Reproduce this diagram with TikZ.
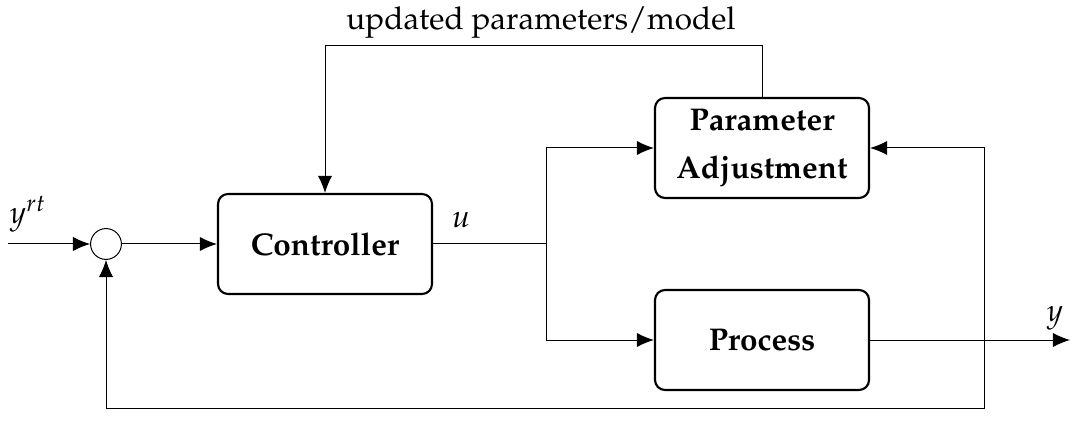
\documentclass[tikz,border=0pt]{standalone}
\usepackage[T1]{fontenc}
\usepackage{mathpazo}
\usepackage{tikz}
\usetikzlibrary{arrows.meta,positioning}

\begin{document}
\begin{tikzpicture}[x=0.35pt,y=-0.35pt,line width=0.35pt,
  font=\fontsize{11}{13.5}\selectfont,
  block/.style={draw,line width=0.75pt,rounded corners=3.5pt,minimum width=74.9pt,
    minimum height=35pt,align=center,font=\fontsize{11}{13.5}\selectfont\bfseries},
  sumnode/.style={circle,draw,minimum size=10.8pt,inner sep=0pt},
  >={Latex[length=6pt,width=5pt]}]

\useasboundingbox (0,0) rectangle (1072,436);

\node[sumnode] (sum) at (106,244) {};
\node[block] (ctrl) at (325,244) {Controller};
\node[block] (adj) at (762,148) {Parameter\\[3.5pt]Adjustment};
\node[block] (proc) at (762,340) {Process};

\coordinate (in) at (8,244);
\coordinate (split) at (546,244);
\coordinate (out) at (1070,340);
\coordinate (tap) at (984,340);
\coordinate (bot) at (984,408);
\coordinate (fb) at (762,46);

\draw[->] (in) -- (sum);
\draw[->] (sum) -- (ctrl);
\draw (ctrl) -- (split);
\draw[->] (split) |- (adj);
\draw[->] (split) |- (proc);
\draw[->] (proc) -- (out);
\draw[->] (tap) |- (adj);
\draw[->] (tap) -- (bot) -| (sum);
\draw[->] (adj.north) -- (fb) -| (ctrl);

\node (yrt) at (28,214) {$y^{rt}$};
\node (ulab) at (461,220) {$u$};
\node (ylab) at (1055,318) {$y$};
\node (upd) at (541,23) {updated parameters/model};

\end{tikzpicture}
\end{document}
